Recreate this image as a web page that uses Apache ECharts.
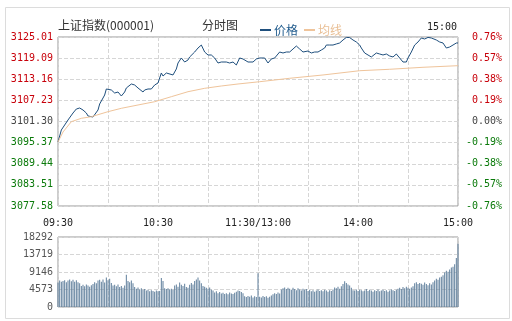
<!DOCTYPE html>
<html>
<head>
<meta charset="utf-8">
<script src="https://cdn.jsdelivr.net/npm/echarts@6/dist/echarts.min.js"></script>
<style>html,body{margin:0;padding:0;background:#fff;}#c{width:512px;height:321px;}</style>
</head>
<body>
<div id="c"></div>
<script>
// ---- data ----
const priceMin = 3077.58, priceMax = 3125.01;
const leftLabels = ['3077.58','3083.51','3089.44','3095.37','3101.30','3107.23','3113.16','3119.09','3125.01'];
const rightLabels = ['-0.76%','-0.57%','-0.38%','-0.19%','0.00%','0.19%','0.38%','0.57%','0.76%'];
const timeTicks = [0, 60, 120, 180, 240];
const timeLabels = ['09:30', '10:30', '11:30/13:00', '14:00', '15:00'];
const volTicks = [0, 4573, 9146, 13719, 18292];

const priceIdx = [0,2,4,6,7,9,11,13,15,17,18,21,22,24,25,27,28,29,30,32,34,36,38,40,41,44,46,48,51,52,54,56,58,60,62,63,65,66,69,71,72,74,76,78,79,82,84,86,87,88,90,92,94,96,98,99,101,103,105,107,109,111,114,117,119,121,122,124,126,128,130,133,135,137,139,141,143,145,147,148,150,152,154,156,158,160,161,163,165,167,169,171,173,175,177,179,180,181,182,184,186,188,189,191,193,195,197,199,201,203,205,207,209,210,212,214,216,218,220,222,224,227,229,231,233,235,237,239,240];
const priceVals = [3095.54,3098.91,3100.31,3101.72,3102.28,3103.68,3104.80,3105.08,3104.52,3103.68,3102.84,3102.56,3102.84,3104.52,3106.21,3107.89,3108.73,3110.42,3110.70,3110.14,3109.29,3109.57,3108.45,3109.57,3110.70,3111.82,3111.54,3110.70,3109.57,3110.14,3110.42,3110.42,3111.54,3112.10,3114.91,3114.06,3114.91,3114.35,3114.35,3116.03,3117.71,3119.12,3117.99,3118.56,3119.40,3120.80,3121.92,3122.76,3122.20,3120.80,3119.96,3119.96,3119.12,3117.71,3117.99,3117.71,3117.99,3117.71,3117.99,3117.15,3119.12,3118.84,3117.99,3117.99,3118.84,3119.12,3118.56,3119.12,3117.71,3118.84,3119.12,3120.80,3120.52,3120.80,3120.80,3121.64,3122.48,3121.64,3120.80,3120.52,3121.08,3120.52,3120.80,3120.80,3121.36,3121.92,3122.76,3122.76,3122.76,3123.05,3123.33,3124.17,3124.90,3124.85,3124.17,3123.61,3123.33,3122.76,3121.92,3120.52,3119.96,3119.40,3119.96,3120.52,3120.24,3119.96,3120.24,3119.68,3119.40,3120.24,3119.12,3117.99,3117.99,3119.12,3120.80,3122.76,3123.61,3124.73,3124.45,3124.90,3124.73,3124.17,3123.61,3123.33,3121.92,3122.20,3122.76,3123.33,3123.33];

const avgIdx = [0,3,8,14,20,30,38,48,58,68,78,88,98,108,121,139,159,181,199,219,240];
const avgVals = [3095.54,3098.35,3101.24,3102.19,3102.64,3104.05,3105.00,3105.93,3106.85,3108.26,3109.66,3110.61,3111.26,3111.82,3112.46,3113.42,3114.35,3115.55,3115.95,3116.51,3116.96];

const volumes = [
 6400,6900,6600,6800,7000,6500,6900,7200,6700,7100,6600,7000,6500,6200,5500,
 5800,5400,5900,5600,5300,5700,
 6000,6500,6200,6900,7100,6600,7200,6400,7700,7000,7400,
 6300,5600,5800,5400,5900,5200,5500,5000,
 5600,8400,
 6800,6500,6900,6200,
 5200,4800,5100,4600,4900,4500,4700,4300,4500,4100,4400,4200,4000,4300,4100,
 4200,7600,6800,
 4900,4700,4900,4600,4800,4500,
 5600,5900,5300,6400,5800,5500,6100,5200,
 5000,5800,6300,5900,6800,7200,7700,6900,
 6200,5500,5300,5000,4800,5100,4500,4300,
 3800,4100,3600,3900,3500,3700,3400,3600,3300,3800,3500,3400,
 3700,4000,4300,4200,3900,3600,
 2800,2600,2900,2700,3000,2500,2800,2600,
 8800,
 2700,2500,2900,2600,2800,2400,2700,3000,3300,
 3600,3400,3800,3500,
 4600,4900,5100,4700,5000,4800,4500,5000,4700,4400,4900,4600,4300,4800,4500,4700,
 4200,4500,4100,4400,4000,4300,4600,4200,4400,4100,4500,4300,4000,4400,4200,4600,
 5100,4900,5300,
 4800,5400,6000,
 6700,
 6300,5900,5600,5000,4400,
 4300,4600,4200,4500,4400,4100,4300,4700,4200,4500,4300,4000,4400,4200,4600,4100,4300,4500,4200,4400,4000,4300,4600,4400,4200,4500,
 4800,5000,4700,5200,4900,5300,5000,4800,5100,5400,
 6200,6500,6000,6300,6100,5800,6400,6000,5700,6200,5900,6500,
 6900,7400,7100,7700,7900,8300,
 9000,9500,9200,9800,10300,10500,
 11200,12800,16500
];

// ---- chart ----
const mono = 'DejaVu Sans Mono';
const cjk = 'Noto Sans CJK SC';
const RED = '#c8000a', GREEN = '#0a7a0a', GRAY = '#444';
const dash = {show:true, lineStyle:{color:'#d6d6d6', type:'dashed', width:1}};

const chart = echarts.init(document.getElementById('c'), null, {renderer:'canvas'});
chart.setOption({
  animation:false,
  backgroundColor:'#fff',
  graphic:[
    {type:'rect', left:3, top:5, shape:{width:504, height:311}, style:{fill:'none', stroke:'#dcdcdc', lineWidth:1}, silent:true},
    {type:'text', left:58, top:19, style:{text:'上证指数(000001)', font:'12px "'+cjk+'"', fill:'#333'}},
    {type:'text', left:202, top:19, style:{text:'分时图', font:'12px "'+cjk+'"', fill:'#333'}},
    {type:'text', right:55, top:22, style:{text:timeLabels[4], font:'10px "'+mono+'"', fill:'#222'}}
  ],
  legend:{
    left:255, top:19, icon:'rect', itemWidth:11, itemHeight:2, itemGap:6,
    textStyle:{fontFamily:cjk, fontSize:12, padding:[0,0,0,-2]},
    data:[{name:'价格', textStyle:{color:'#1f5a8c'}},{name:'均线', textStyle:{color:'#e9bf95'}}]
  },
  grid:[
    {left:58, top:37, width:400, height:169, show:true, borderColor:'#999', borderWidth:1},
    {left:58, top:237, width:400, height:70, show:true, borderColor:'#999', borderWidth:1}
  ],
  xAxis:[
    {type:'value', gridIndex:0, min:0, max:240, interval:30,
     axisLine:{show:false}, axisTick:{show:false}, splitLine:dash,
     axisLabel:{margin:12, fontFamily:mono, fontSize:10, color:'#222',
       formatter:v=>{const i=timeTicks.indexOf(v);return i>=0?timeLabels[i]:'';}}},
    {type:'value', gridIndex:1, min:0, max:240, interval:30,
     axisLine:{show:false}, axisTick:{show:false}, splitLine:dash, axisLabel:{show:false}}
  ],
  yAxis:[
    {type:'value', gridIndex:0, min:priceMin, max:priceMax, show:false},
    {type:'value', gridIndex:0, position:'left', min:0, max:8, interval:1,
     axisLine:{show:false}, axisTick:{show:false}, splitLine:dash,
     axisLabel:{margin:5, fontFamily:mono, fontSize:10,
       formatter:v=>leftLabels[v],
       color:v=>v>4?RED:(v<4?GREEN:GRAY)}},
    {type:'value', gridIndex:0, position:'right', min:0, max:8, interval:1,
     axisLine:{show:false}, axisTick:{show:false}, splitLine:{show:false},
     axisLabel:{margin:44, align:'right', fontFamily:mono, fontSize:10,
       formatter:v=>rightLabels[v],
       color:v=>v>4?RED:(v<4?GREEN:GRAY)}},
    {type:'value', gridIndex:1, min:volTicks[0], max:volTicks[4], interval:volTicks[1],
     axisLine:{show:false}, axisTick:{show:false}, splitLine:dash,
     axisLabel:{margin:5, fontFamily:mono, fontSize:10, color:'#555', formatter:v=>String(v)}}
  ],
  series:[
    {name:'价格', type:'line', xAxisIndex:0, yAxisIndex:0, symbol:'none',
     lineStyle:{color:'#1f4f7d', width:1}, itemStyle:{color:'#1f4f7d'},
     data:priceIdx.map((m,i)=>[m,priceVals[i]])},
    {name:'均线', type:'line', xAxisIndex:0, yAxisIndex:0, symbol:'none',
     lineStyle:{color:'#efc49b', width:1}, itemStyle:{color:'#efc49b'},
     data:avgIdx.map((m,i)=>[m,avgVals[i]])},
    {name:'成交量', type:'bar', xAxisIndex:1, yAxisIndex:3, barWidth:1,
     itemStyle:{color:'#5f7f9c'}, data:volumes.map((v,i)=>[i,v])}
  ]
});
</script>
</body>
</html>
